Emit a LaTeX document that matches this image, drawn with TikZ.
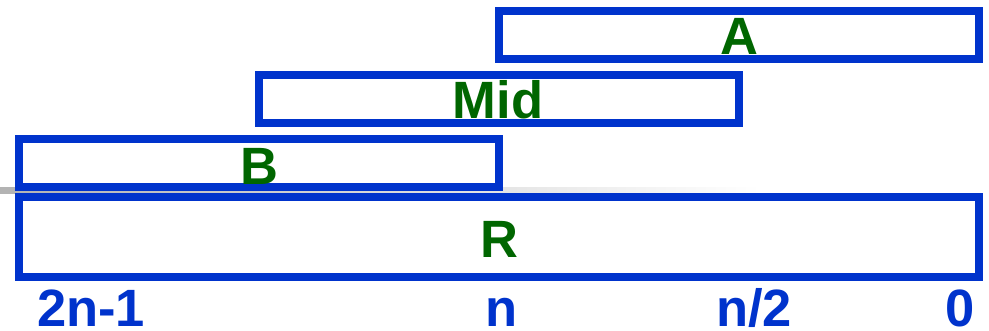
\documentclass[tikz,border=0pt]{standalone}
\usepackage{fontspec}
\setmainfont{Liberation Sans}
\definecolor{rangeblue}{RGB}{0,51,204}
\definecolor{labelgreen}{RGB}{0,102,0}
\begin{document}
\begin{tikzpicture}[x=1pt,y=-1pt,
  rangebox/.style={draw=rangeblue, line width=8pt, inner sep=0pt, minimum height=48pt},
  rangelabel/.style={text=labelgreen, font=\fontsize{52.5}{60}\selectfont\bfseries, anchor=base, inner sep=0pt},
  indexlabel/.style={text=rangeblue, font=\fontsize{52.5}{60}\selectfont\bfseries, anchor=base, inner sep=0pt}]
\useasboundingbox (0,0) rectangle (989,330);
% faint separator behind the operand boxes
\fill[left color=black!30, right color=white] (0,187) rectangle (760,193);
% operand ranges
\node[rangebox, minimum width=480pt] (A) at (739,35) {};
\node[rangebox, minimum width=480pt] (Mid) at (499,99) {};
\node[rangebox, minimum width=480pt] (B) at (259,163) {};
\node[rangebox, minimum width=960pt, minimum height=80pt] (R) at (499,237) {};
% range names
\node[rangelabel] (lA) at (739,54) {A};
\node[rangelabel] (lMid) at (498,118) {Mid};
\node[rangelabel] (lB) at (259,184) {B};
\node[rangelabel] (lR) at (499,257) {R};
% digit positions
\node[indexlabel] (i2n) at (91,326) {2n-1};
\node[indexlabel] (in) at (502,326) {n};
\node[indexlabel] (ih) at (754,326) {n/2};
\node[indexlabel] (i0) at (960,326) {0};
\end{tikzpicture}
\end{document}
